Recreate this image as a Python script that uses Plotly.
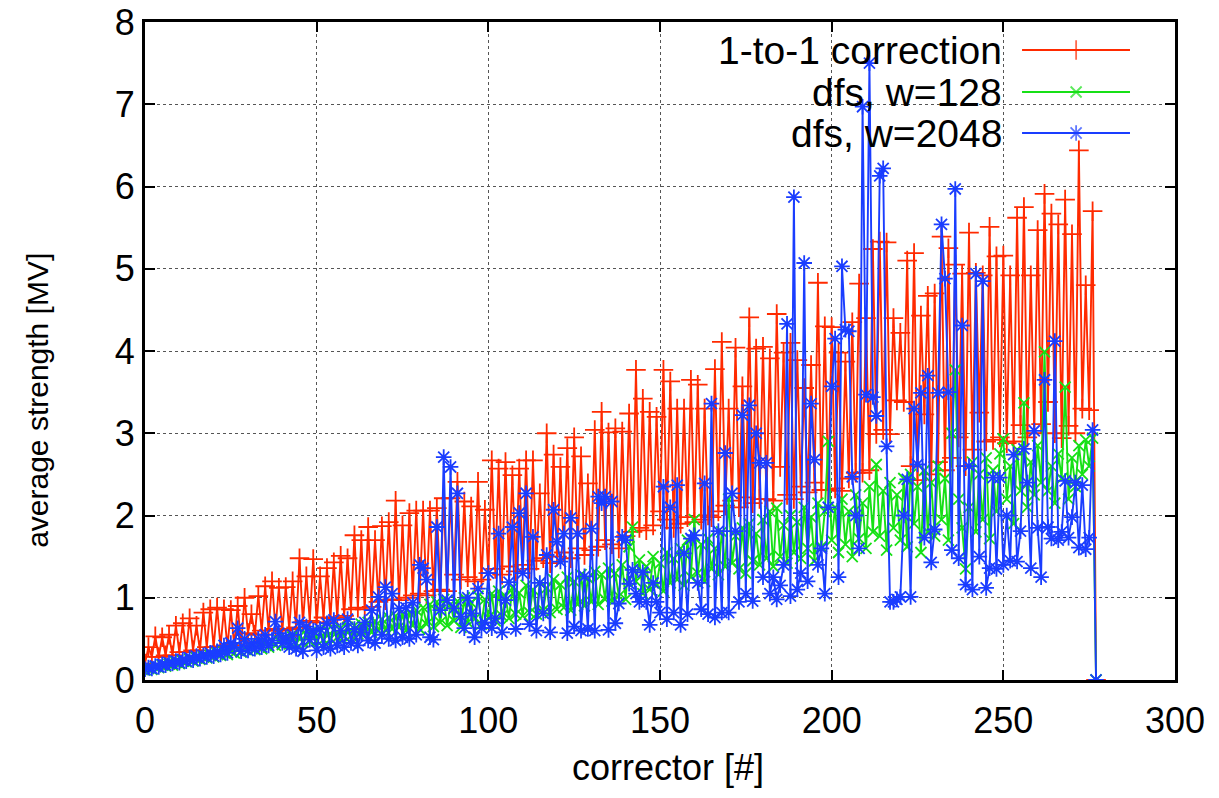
import plotly.graph_objects as go

corrector = list(range(278))

one_to_one = [
    0.20, 0.40, 0.28, 0.53, 0.28, 0.52, 0.30, 0.55, 0.30, 0.66,
    0.34, 0.69, 0.34, 0.75, 0.36, 0.66, 0.36, 0.82, 0.40, 0.86,
    0.40, 0.88, 0.41, 0.86, 0.40, 0.85, 0.42, 0.90, 0.42, 1.00,
    0.57, 0.80, 0.55, 1.02, 0.60, 1.14, 0.60, 1.20, 0.62, 1.12,
    0.60, 1.13, 0.62, 1.20, 0.64, 1.48, 0.70, 1.26, 0.72, 1.47,
    0.70, 1.26, 0.76, 1.36, 0.75, 1.43, 0.76, 1.51, 0.78, 1.48,
    0.86, 1.76, 0.88, 1.70, 0.86, 1.86, 0.89, 1.70, 0.95, 1.87,
    0.97, 1.92, 0.98, 2.18, 0.97, 1.88, 1.00, 2.03, 1.03, 2.06,
    1.05, 2.06, 1.03, 2.06, 1.08, 2.09, 1.10, 2.21, 1.08, 2.21,
    1.28, 2.41, 1.22, 2.17, 1.25, 2.11, 1.20, 2.41, 1.22, 2.07,
    1.30, 2.67, 1.35, 2.57, 1.28, 2.65, 1.38, 2.49, 1.32, 2.57,
    1.40, 2.67, 1.35, 2.67, 1.45, 2.27, 1.48, 3.00, 1.42, 2.74,
    1.50, 2.59, 1.55, 2.82, 1.48, 2.95, 1.60, 2.72, 1.52, 2.39,
    1.58, 3.04, 1.62, 3.26, 1.70, 3.01, 1.65, 3.06, 1.60, 3.02,
    1.75, 3.24, 1.80, 3.77, 1.85, 3.42, 1.82, 3.26, 1.88, 3.20,
    2.05, 3.77, 1.95, 3.63, 1.85, 3.30, 1.90, 3.30, 1.98, 3.65,
    1.92, 3.59, 1.95, 3.30, 2.00, 1.98, 3.78, 2.05, 4.11, 2.12,
    3.30, 2.18, 4.04, 2.10, 3.57, 2.22, 4.41, 2.15, 4.03, 2.20,
    4.05, 2.20, 3.91, 2.18, 4.45, 2.59, 3.98, 2.25, 4.10, 2.20,
    3.89, 2.35, 3.55, 2.28, 3.83, 2.40, 4.83, 2.31, 4.30, 2.31,
    4.29, 2.33, 3.98, 2.30, 3.87, 2.45, 4.35, 2.52, 4.82, 2.52,
    4.40, 2.55, 5.24, 2.99, 5.33, 3.04, 5.32, 2.99, 4.40, 3.40,
    4.22, 3.38, 5.10, 2.60, 5.19, 2.43, 4.43, 3.23, 4.67, 2.50,
    4.70, 2.65, 5.39, 2.55, 5.25, 2.70, 5.05, 2.95, 4.94, 2.60,
    5.44, 2.80, 4.95, 3.25, 4.92, 2.90, 5.51, 2.92, 5.15, 2.95,
    5.16, 2.88, 4.92, 2.90, 5.62, 3.10, 5.75, 2.95, 4.92, 3.00,
    5.47, 3.11, 5.91, 3.38, 5.67, 3.00, 5.54, 2.94, 5.84, 3.09,
    5.42, 3.00, 6.44, 3.30, 4.80, 3.28, 5.70, 0.00,
]

dfs_w128 = [
    0.12, 0.14, 0.13, 0.16, 0.15, 0.18, 0.17, 0.19, 0.18, 0.21,
    0.20, 0.23, 0.22, 0.25, 0.23, 0.27, 0.25, 0.28, 0.27, 0.30,
    0.28, 0.32, 0.30, 0.34, 0.31, 0.35, 0.33, 0.37, 0.34, 0.38,
    0.36, 0.40, 0.37, 0.42, 0.38, 0.44, 0.40, 0.47, 0.42, 0.48,
    0.43, 0.50, 0.44, 0.52, 0.45, 0.53, 0.46, 0.55, 0.47, 0.56,
    0.48, 0.58, 0.49, 0.60, 0.50, 0.61, 0.52, 0.63, 0.53, 0.64,
    0.54, 0.66, 0.56, 0.68, 0.57, 0.70, 0.58, 0.72, 0.60, 0.74,
    0.61, 0.76, 0.62, 0.78, 0.64, 0.80, 0.60, 0.82, 0.66, 0.85,
    0.62, 0.88, 0.68, 0.92, 0.65, 0.95, 0.70, 0.98, 0.66, 0.92,
    0.72, 0.96, 0.64, 1.00, 0.70, 0.94, 0.74, 1.02, 0.68, 0.98,
    0.76, 1.05, 0.72, 1.08, 0.78, 1.02, 0.75, 1.12, 0.80, 1.06,
    0.78, 1.15, 0.82, 1.10, 0.80, 1.18, 0.85, 1.12, 0.82, 1.22,
    0.86, 1.16, 0.88, 1.25, 0.85, 1.20, 0.92, 1.28, 0.90, 1.24,
    0.95, 1.32, 0.92, 1.28, 0.98, 1.36, 0.96, 1.30, 1.02, 1.40,
    0.98, 1.62, 1.86, 1.20, 1.46, 1.05, 1.38, 1.10, 1.50, 1.15,
    1.42, 1.08, 1.55, 1.18, 1.48, 1.22, 1.60, 1.15, 1.70, 1.25,
    1.95, 1.30, 1.65, 1.20, 1.72, 1.35, 1.60, 1.28, 1.80, 1.38,
    2.20, 1.42, 1.75, 1.35, 1.85, 1.30, 1.90, 1.45, 1.78, 1.40,
    1.95, 1.48, 2.05, 1.38, 2.09, 1.50, 1.88, 1.42, 2.00, 1.55,
    1.92, 1.48, 2.10, 1.60, 1.98, 1.45, 2.15, 1.62, 2.05, 2.90,
    1.70, 2.10, 1.55, 2.20, 1.65, 2.05, 1.50, 2.25, 1.72, 2.15,
    1.60, 2.35, 1.80, 2.62, 1.75, 2.30, 1.58, 2.40, 1.85, 2.25,
    1.70, 2.45, 1.62, 2.50, 1.90, 2.35, 1.55, 2.55, 1.80, 2.40,
    1.75, 2.60, 1.95, 2.45, 1.70, 3.00, 3.77, 2.20, 1.85, 1.35,
    2.10, 2.65, 1.80, 2.50, 1.95, 2.70, 1.72, 2.55, 2.05, 2.75,
    2.93, 2.20, 2.60, 1.90, 2.80, 2.30, 3.37, 2.10, 2.65, 2.25,
    2.85, 2.40, 3.99, 2.30, 2.60, 2.15, 2.75, 2.45, 3.56, 2.20,
    2.70, 2.35, 2.85, 2.50, 2.92, 2.60, 2.94, 0.00,
]

dfs_w2048 = [
    0.13, 0.15, 0.14, 0.17, 0.16, 0.19, 0.18, 0.21, 0.20, 0.23,
    0.21, 0.25, 0.23, 0.27, 0.24, 0.29, 0.26, 0.30, 0.28, 0.33,
    0.29, 0.35, 0.31, 0.42, 0.33, 0.45, 0.40, 0.63, 0.35, 0.50,
    0.36, 0.45, 0.38, 0.50, 0.40, 0.55, 0.42, 0.48, 0.71, 0.57,
    0.45, 0.52, 0.40, 0.55, 0.38, 0.70, 0.35, 0.65, 0.49, 0.60,
    0.36, 0.62, 0.40, 0.69, 0.38, 0.73, 0.42, 0.60, 0.40, 0.74,
    0.45, 0.62, 0.42, 0.58, 0.70, 0.48, 0.85, 0.45, 1.01, 0.55,
    1.13, 0.50, 1.05, 0.48, 0.87, 0.52, 0.88, 0.50, 0.94, 0.55,
    1.40, 1.36, 1.22, 0.52, 0.49, 1.86, 0.85, 2.71, 0.97, 2.59,
    0.87, 2.27, 0.77, 0.63, 1.00, 0.81, 0.52, 1.11, 0.63, 0.70,
    1.30, 0.63, 0.75, 1.78, 0.58, 0.97, 1.19, 1.86, 0.62, 2.03,
    1.30, 2.27, 0.68, 1.74, 0.60, 1.18, 0.81, 1.52, 0.58, 2.07,
    1.68, 1.44, 1.78, 0.57, 1.97, 0.65, 1.78, 0.60, 1.26, 0.62,
    1.84, 0.60, 2.23, 2.15, 2.23, 0.61, 2.17, 0.69, 0.93, 1.74,
    1.70, 1.17, 1.34, 1.05, 0.95, 1.31, 0.95, 0.67, 1.18, 0.95,
    0.82, 2.35, 0.74, 2.10, 0.82, 2.37, 0.67, 1.54, 0.80, 1.72,
    1.76, 1.18, 0.86, 2.39, 0.80, 3.36, 0.76, 1.81, 0.82, 2.76,
    0.82, 2.27, 1.81, 0.95, 3.22, 1.05, 3.34, 0.96, 3.00, 2.64,
    1.25, 2.64, 1.05, 1.25, 0.98, 1.15, 1.40, 4.33, 1.02, 5.87,
    1.10, 1.30, 5.07, 1.20, 3.36, 2.68, 1.40, 1.60, 1.05, 2.10,
    3.57, 4.15, 1.25, 5.03, 4.26, 4.24, 2.47, 2.00, 1.60, 6.97,
    3.47, 7.50, 3.44, 3.21, 6.13, 6.22, 2.84, 0.95, 0.95, 0.98,
    1.01, 2.00, 2.44, 1.01, 3.30, 2.62, 3.49, 1.73, 3.70, 1.43,
    1.83, 3.49, 5.54, 4.88, 3.50, 1.58, 5.97, 1.48, 4.31, 1.16,
    2.60, 1.10, 4.94, 1.50, 4.85, 1.12, 1.36, 2.46, 1.35, 2.46,
    1.40, 2.00, 1.45, 2.74, 1.44, 1.81, 2.81, 2.40, 1.36, 3.03,
    1.85, 1.25, 3.65, 1.86, 1.72, 4.12, 1.70, 1.80, 2.42, 1.73,
    1.98, 2.40, 1.61, 2.37, 1.59, 1.73, 3.04, 0.00,
]

series_names = ["1-to-1 correction", "dfs, w=128", "dfs, w=2048"]
x_ticks = [0, 50, 100, 150, 200, 250, 300]
y_ticks = [0, 1, 2, 3, 4, 5, 6, 7, 8]

colors = ["#ff2a00", "#16e016", "#1a3dff"]
symbols = ["cross-thin", "x-thin", "asterisk-open"]
sizes = [14, 11, 13]
FONT = "Liberation Sans, Arial, Helvetica, sans-serif"

fig = go.Figure()
for name, ys, c, s, sz in zip(series_names, [one_to_one, dfs_w128, dfs_w2048], colors, symbols, sizes):
    fig.add_trace(go.Scatter(
        x=corrector, y=ys, mode="lines+markers", name=name,
        line=dict(color=c, width=1.9),
        marker=dict(symbol=s, size=sz, color=c, line=dict(color=c, width=1.8)),
        showlegend=False, xaxis="x", yaxis="y",
    ))

# gnuplot-style key (text right-aligned, sample to its right)
rows_y = [0.9574, 0.8936, 0.8313]
for name, c, s, sz, ry in zip(series_names, colors, symbols, sizes, rows_y):
    fig.add_trace(go.Scatter(
        x=[0.8515, 0.904, 0.9563], y=[ry, ry, ry], mode="lines+markers",
        line=dict(color=c, width=1.9),
        marker=dict(symbol=s, size=[0, sz, 0], color=c, line=dict(color=c, width=1.8)),
        showlegend=False, xaxis="x2", yaxis="y2", hoverinfo="skip",
    ))
    fig.add_annotation(x=0.834, y=ry, xref="paper", yref="paper", text=name,
                       showarrow=False, xanchor="right", yanchor="middle",
                       font=dict(family=FONT, size=39, color="black"))

axis_common = dict(
    showline=True, linewidth=3, linecolor="black", mirror="allticks",
    ticks="inside", ticklen=10, tickwidth=2, tickcolor="black",
    showgrid=True, gridcolor="#555555", gridwidth=1, griddash="dot",
    zeroline=False, automargin=False, ticklabeloverflow="allow",
    tickfont=dict(family=FONT, size=36, color="black"),
)
fig.update_layout(
    width=1219, height=798,
    margin=dict(l=145, r=44, t=22, b=118),
    paper_bgcolor="white", plot_bgcolor="white",
    xaxis=dict(range=[0, 300], tickvals=x_ticks, ticktext=[str(v) for v in x_ticks],
               ticklabelstandoff=7, **axis_common),
    yaxis=dict(range=[0, 8], tickvals=y_ticks, ticktext=[str(v) for v in y_ticks],
               ticklabelstandoff=0, **axis_common),
    xaxis2=dict(range=[0, 1], overlaying="x", visible=False, anchor="y2"),
    yaxis2=dict(range=[0, 1], overlaying="y", visible=False, anchor="x2"),
    shapes=[dict(type="rect", xref="paper", yref="paper", x0=0.4417, x1=0.998,
                 y0=0.8055, y1=0.998, fillcolor="white", line=dict(width=0),
                 layer="between")],
)
fig.add_annotation(x=0.508, y=-0.1337, xref="paper", yref="paper", text="corrector [#]",
                   showarrow=False, xanchor="center", yanchor="middle",
                   font=dict(family=FONT, size=36, color="black"))
fig.add_annotation(x=-0.105, y=0.4255, xref="paper", yref="paper", text="average strength [MV]",
                   showarrow=False, xanchor="center", yanchor="middle", textangle=-90,
                   font=dict(family=FONT, size=30, color="black"))

fig.write_html("out.html", config={"displayModeBar": False},
               post_script="document.body.style.margin='0';document.body.style.overflow='hidden';")
